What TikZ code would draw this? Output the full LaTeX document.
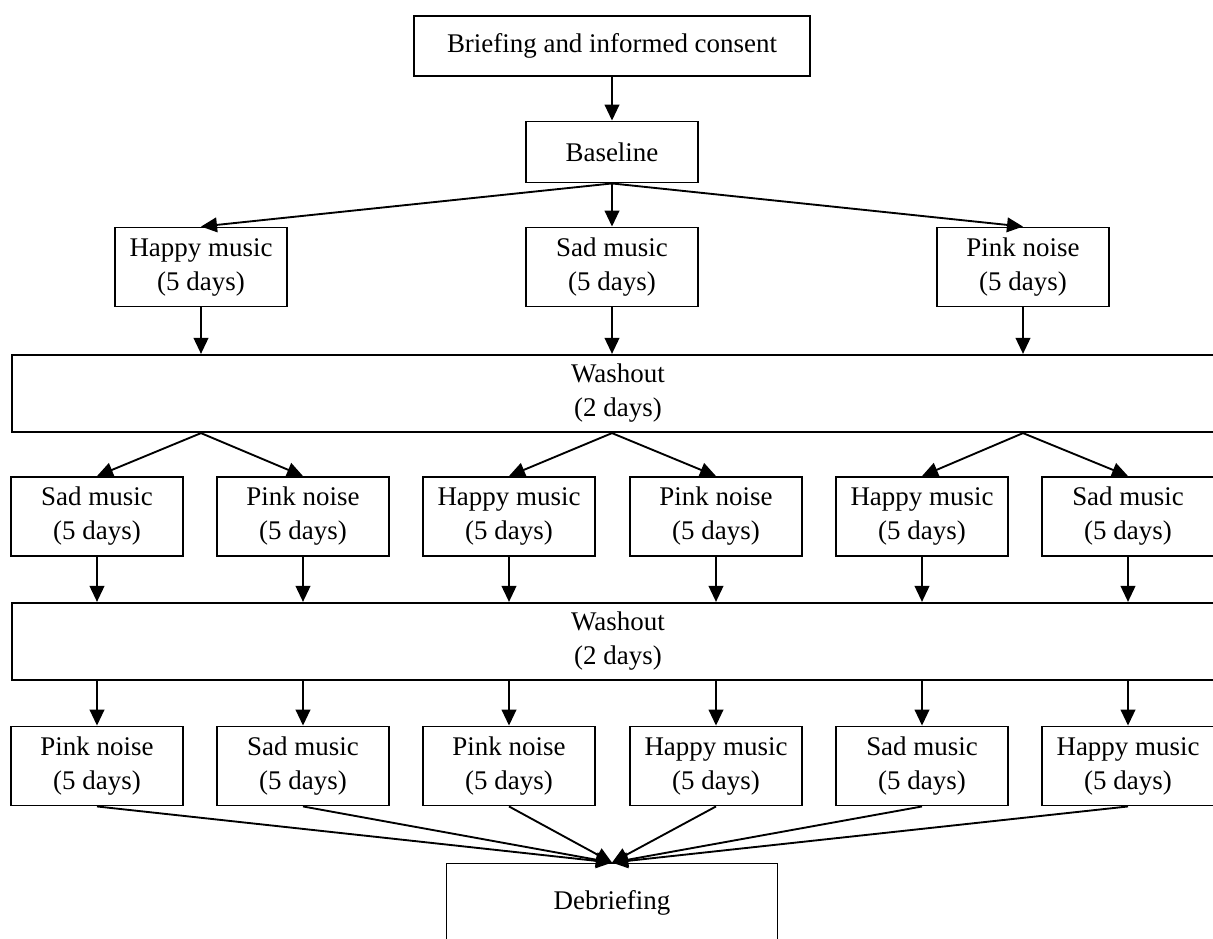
\documentclass[tikz,border=0pt]{standalone}
\usepackage{fontspec}
\setmainfont{Liberation Serif}
\usetikzlibrary{arrows.meta}
\begin{document}
\begin{tikzpicture}[
		x=0.015cm, y=0.015cm,
		line width=0.8pt,
		every node/.style={font=\fontsize{11.5}{14.5}\selectfont, align=center},
		box/.style={draw, inner sep=0pt, minimum width=2.58cm, minimum height=1.185cm},
		wide box/.style={draw, inner sep=0pt, minimum width=18.18cm, minimum height=1.16cm},
		flow/.style={-{Triangle[length=2.4mm, width=2.2mm]}}
		]
	
	\useasboundingbox (0, 0) rectangle (1213, -938);
	
	% Briefing and baseline
	\node[box, minimum width=5.95cm, minimum height=0.9cm] (brief) at (612, -46) {Briefing and informed consent};
	\node[box, minimum height=0.915cm] (base) at (612, -152) {Baseline};
	\draw[flow] (brief) -- (base);
	
	% First condition
	\foreach \x/\name/\txt in {201/r1a/Happy music, 612/r1b/Sad music, 1023/r1c/Pink noise}{
		\node[box] (\name) at (\x, -267) {\txt\\(5 days)};
		\draw[flow] (base.south) -- (\name.north);
	}
	
	% First washout
	\node[wide box] (w1) at (618, -393.5) {Washout\\(2 days)};
	\foreach \name in {r1a, r1b, r1c}{
		\draw[flow] (\name) -- (\name |- w1.north);
	}
	
	% Second condition
	\foreach \x/\name/\txt in {97/r2a/Sad music, 303/r2b/Pink noise, 509/r2c/Happy music, 716/r2d/Pink noise, 922/r2e/Happy music, 1128/r2f/Sad music}{
		\node[box] (\name) at (\x, -516.5) {\txt\\(5 days)};
	}
	\foreach \from/\one/\two in {r1a/r2a/r2b, r1b/r2c/r2d, r1c/r2e/r2f}{
		\draw[flow] (\from |- w1.south) -- (\one.north);
		\draw[flow] (\from |- w1.south) -- (\two.north);
	}
	
	% Second washout
	\node[wide box] (w2) at (618, -641.5) {Washout\\(2 days)};
	\foreach \name in {r2a, r2b, r2c, r2d, r2e, r2f}{
		\draw[flow] (\name) -- (\name |- w2.north);
	}
	
	% Third condition
	\foreach \x/\name/\txt in {97/r3a/Pink noise, 303/r3b/Sad music, 509/r3c/Pink noise, 716/r3d/Happy music, 922/r3e/Sad music, 1128/r3f/Happy music}{
		\node[box] (\name) at (\x, -766) {\txt\\(5 days)};
		\draw[flow] (\name |- w2.south) -- (\name);
	}
	
	% Debriefing
	\node[box, minimum width=4.965cm] (debrief) at (612, -903) {Debriefing};
	\foreach \name in {r3a, r3b, r3c, r3d, r3e, r3f}{
		\draw[flow] (\name.south) -- (debrief.north);
	}
	
\end{tikzpicture}
\end{document}
